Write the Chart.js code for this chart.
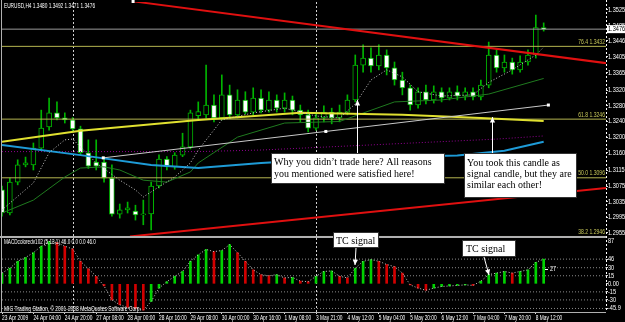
<!DOCTYPE html>
<html><head><meta charset="utf-8">
<script src="https://cdn.jsdelivr.net/npm/chart.js@4/dist/chart.umd.min.js"></script>
<style>html,body{margin:0;padding:0;background:#000;overflow:hidden}canvas{display:block}</style>
</head><body>
<canvas id="c" width="625" height="322"></canvas>
<script>
// ---------- DATA ----------
const timeLabels = ['23 Apr 2009','24 Apr 04:00','24 Apr 20:00','27 Apr 08:00','28 Apr 00:00','28 Apr 16:00','29 Apr 08:00','30 Apr 00:00','30 Apr 16:00','1 May 08:00','3 May 21:00','4 May 12:00','5 May 04:00','5 May 20:00','6 May 12:00','7 May 04:00','7 May 20:00','8 May 12:00'];
const timeLabelBars = [0,4,8,12,16,20,24,28,32,36,40,44,48,52,56,60,64,68];
const priceTicks = [1.3525,1.3485,1.3446,1.3405,1.3365,1.3320,1.3280,1.3240,1.3200,1.3160,1.3115,1.3075,1.3035,1.2995,1.2955];
const openP  = [1.3065,1.3006,1.3085,1.3129,1.3129,1.3172,1.3226,1.3262,1.3249,1.3244,1.3221,1.3160,1.3136,1.3136,1.3095,1.3003,1.3014,1.3011,1.3001,1.3004,1.3075,1.3144,1.3124,1.3154,1.3175,1.3255,1.3257,1.3282,1.3249,1.3308,1.3257,1.3295,1.3264,1.3300,1.3269,1.3295,1.3274,1.3295,1.3269,1.3257,1.3223,1.3249,1.3264,1.3249,1.3264,1.3295,1.3384,1.3402,1.3382,1.3410,1.3377,1.3346,1.3326,1.3282,1.3316,1.3295,1.3316,1.3300,1.3316,1.3305,1.3316,1.3303,1.3333,1.3410,1.3377,1.3392,1.3372,1.3392,1.3410,1.3480];
const highP  = [1.3075,1.3095,1.3142,1.3149,1.3185,1.3269,1.3300,1.3290,1.3262,1.3250,1.3228,1.3193,1.3193,1.3149,1.3129,1.3029,1.3034,1.3026,1.3039,1.3085,1.3155,1.3150,1.3160,1.3210,1.3269,1.3290,1.3384,1.3308,1.3359,1.3333,1.3321,1.3316,1.3326,1.3321,1.3316,1.3308,1.3313,1.3305,1.3282,1.3269,1.3264,1.3280,1.3274,1.3282,1.3308,1.3410,1.3436,1.3428,1.3436,1.3423,1.3392,1.3366,1.3333,1.3326,1.3333,1.3331,1.3326,1.3326,1.3331,1.3326,1.3326,1.3346,1.3443,1.3423,1.3410,1.3402,1.3408,1.3423,1.3512,1.3492];
const lowP   = [1.2998,1.3001,1.3078,1.3124,1.3116,1.3167,1.3218,1.3244,1.3236,1.3213,1.3155,1.3120,1.3116,1.3085,1.2998,1.2993,1.3006,1.2988,1.2976,1.2963,1.3070,1.3116,1.3118,1.3150,1.3170,1.3244,1.3249,1.3239,1.3244,1.3249,1.3249,1.3259,1.3257,1.3262,1.3264,1.3264,1.3264,1.3257,1.3239,1.3213,1.3218,1.3239,1.3234,1.3239,1.3257,1.3290,1.3366,1.3366,1.3372,1.3359,1.3333,1.3308,1.3269,1.3274,1.3285,1.3287,1.3290,1.3295,1.3295,1.3295,1.3295,1.3295,1.3326,1.3366,1.3366,1.3361,1.3366,1.3384,1.3402,1.3471];
const closeP = [1.3006,1.3085,1.3129,1.3134,1.3172,1.3223,1.3262,1.3249,1.3244,1.3221,1.3160,1.3126,1.3126,1.3095,1.3003,1.3014,1.3019,1.3001,1.3004,1.3075,1.3144,1.3124,1.3154,1.3175,1.3262,1.3265,1.3282,1.3249,1.3308,1.3257,1.3295,1.3264,1.3300,1.3269,1.3295,1.3274,1.3295,1.3269,1.3257,1.3223,1.3249,1.3264,1.3249,1.3264,1.3295,1.3384,1.3402,1.3382,1.3410,1.3377,1.3346,1.3326,1.3282,1.3316,1.3295,1.3316,1.3300,1.3316,1.3305,1.3316,1.3303,1.3333,1.3410,1.3377,1.3392,1.3372,1.3392,1.3410,1.3480,1.3476];
const yellowBars = [0,10,25,38,51,61,69];
const yellowVals = [1.3188,1.3216,1.3244,1.3262,1.3257,1.3249,1.3241];
const cyanBars = [0,10,19,25,33,45,58,64,69];
const cyanVals = [1.3180,1.3154,1.3129,1.3121,1.3134,1.3147,1.3153,1.3165,1.3188];
const purpleBars = [0,25,33,63,69];
const purpleVals = [1.3163,1.3163,1.3167,1.3195,1.3203];
const fastBars = [0,4,6,8,9,10,12,15,17,18,20,22,24,25,28,32,36,40,43,45,47,49,51,53,56,60,62,65,68,69];
const fastVals = [1.3014,1.3083,1.3160,1.3193,1.3195,1.3175,1.3134,1.3090,1.3065,1.3047,1.3073,1.3098,1.3134,1.3167,1.3244,1.3262,1.3274,1.3254,1.3249,1.3285,1.3346,1.3372,1.3354,1.3316,1.3305,1.3308,1.3340,1.3372,1.3410,1.3430];
const slowBars = [0,4,8,10,13,15,18,21,24,25,30,36,43,50,56,62,69];
const slowVals = [1.3006,1.3039,1.3098,1.3121,1.3124,1.3116,1.3090,1.3085,1.3111,1.3134,1.3200,1.3236,1.3240,1.3290,1.3295,1.3310,1.3350];
const trendWhiteBars = [12.9,69.6];
const trendWhiteVals = [1.3147,1.3282];
const trendRedUpBars = [16.7,77];
const trendRedUpVals = [1.3547,1.3389];
const trendRedLowBars = [16.3,77];
const trendRedLowVals = [1.2946,1.3070];
const fibLevels = [1.3432,1.3246,1.3096,1.2946];
const fibNames = ['76.4','61.8','50.0','38.2'];
const bidPrice = 1.3476;
const separatorBars = [9,40];
const macdVals = [20,29,42,49,58,70,79,77,70,65,42,28,14,-4,-30,-39,-44,-46,-49,-33,-8,4,14,23,42,54,64,60,62,73,58,42,26,17,15,17,11,12,5,4,14,23,24,14,11,29,42,45,42,36,32,20,-2,-8,-12,-8,-5,-4,-3,-2,-3,5,17,20,23,20,23,26,40,46];
const macdTicks = [46,30,15,0,-15,-30,-45.9];
const macdLevels = [46,30,15,-15,-30,-45.9];

// ---------- CONFIG ----------
const PMIN = 1.29447, PMAX = 1.35454, MMIN = -52.5, MMAX = 87.2, XMIN = 0, XMAX = 76.94;
const SANS = "'Liberation Sans','Arial',sans-serif";
const GREEN = '#00b400';
const bars = openP.map((_, i) => i);

function lineDS(xs, ys, color, width, dash, order, axis) {
  return {type:'line', yAxisID: axis || 'y', data: xs.map((x, i) => ({x, y: ys[i]})), borderColor: color,
    borderWidth: width, borderDash: dash || [], pointRadius: 0, tension: 0, fill: false, order: order};
}
const datasets = [];
datasets.push({type:'bar', yAxisID:'y', order: 100, grouped:false, barThickness:1,
  data: bars.map(i => ({x:i, y:[lowP[i], highP[i]]})), backgroundColor: GREEN, borderWidth:0});
datasets.push({type:'bar', yAxisID:'y', order: 90, grouped:false, barThickness:5, minBarLength:1,
  data: bars.map(i => ({x:i, y:[openP[i], closeP[i]]})),
  backgroundColor: bars.map(i => closeP[i] < openP[i] ? '#ffffff' : '#000000'),
  borderColor: GREEN, borderWidth: 1, borderSkipped: false});
fibLevels.forEach(l => datasets.push(lineDS([XMIN, XMAX], [l, l], '#b4b450', 1, [], 80)));
datasets.push(lineDS([XMIN, XMAX], [bidPrice, bidPrice], '#9a9a9a', 1, [], 80));
datasets.push(lineDS(slowBars, slowVals, '#1f7a1f', 1, [], 60));
datasets.push(lineDS(purpleBars, purpleVals, '#900090', 1, [1,2], 60));
datasets.push(lineDS(cyanBars, cyanVals, '#1e9bd7', 2, [], 55));
datasets.push(lineDS(yellowBars, yellowVals, '#e0e030', 2, [], 55));
datasets.push(lineDS(fastBars, fastVals, '#c8c8c8', 1, [1,2], 50));
datasets.push(lineDS(trendWhiteBars, trendWhiteVals, '#c8c8c8', 1, [], 20));
datasets.push(lineDS(trendRedUpBars, trendRedUpVals, '#e01010', 2, [], 20));
datasets.push(lineDS(trendRedLowBars, trendRedLowVals, '#e01010', 2, [], 20));
macdLevels.forEach(l => datasets.push(lineDS([XMIN, XMAX], [l, l], '#8a8a8a', 1, [1,2], 40, 'm')));
datasets.push({type:'bar', yAxisID:'m', order: 30, grouped:false, barThickness:2,
  data: bars.map(i => ({x:i, y:macdVals[i]})),
  backgroundColor: bars.map(i => (i === 0 || macdVals[i] >= macdVals[i-1]) ? '#00d200' : '#d20000'), borderWidth:0});
datasets.push(lineDS(bars, macdVals, '#c8c8c8', 1, [1,2], 10, 'm'));

function arrow(ctx, x1, y1, x2, y2, color) {
  ctx.strokeStyle = color; ctx.fillStyle = color; ctx.lineWidth = 1; ctx.setLineDash([]);
  ctx.beginPath(); ctx.moveTo(x1, y1); ctx.lineTo(x2, y2); ctx.stroke();
  const a = Math.atan2(y2 - y1, x2 - x1), L = 6, W = 0.45;
  ctx.beginPath(); ctx.moveTo(x2, y2);
  ctx.lineTo(x2 - L*Math.cos(a - W), y2 - L*Math.sin(a - W));
  ctx.lineTo(x2 - L*Math.cos(a + W), y2 - L*Math.sin(a + W));
  ctx.closePath(); ctx.fill();
}
function noteBox(ctx, x, y, w, h, lines, size, lh, tx, ty) {
  ctx.fillStyle = '#fff'; ctx.fillRect(x, y, w, h);
  ctx.strokeStyle = '#333'; ctx.lineWidth = 1; ctx.setLineDash([]); ctx.strokeRect(x + 0.5, y + 0.5, w - 1, h - 1);
  ctx.fillStyle = '#000'; ctx.font = size + "px 'Liberation Serif','DejaVu Serif',serif";
  ctx.textAlign = 'left'; ctx.textBaseline = 'alphabetic';
  lines.forEach((t, i) => ctx.fillText(t, tx, ty + i * lh));
}
// small condensed text, like the terminal's bitmap font
function tiny(ctx, str, x, y, size, sx, color, align, base) {
  ctx.save(); ctx.translate(x, y); ctx.scale(sx, 1);
  ctx.font = size + 'px ' + SANS; ctx.fillStyle = color; ctx.textAlign = align || 'left'; ctx.textBaseline = base || 'middle';
  ctx.fillText(str, 0, 0); ctx.restore();
}

const overlay = {
  id: 'overlay',
  beforeDatasetsDraw(c) {
    const {ctx, chartArea: a, scales: {x}} = c;
    ctx.save();
    ctx.strokeStyle = '#d0d0d0'; ctx.lineWidth = 1; ctx.setLineDash([2, 2]);
    separatorBars.forEach(b => {
      const px = Math.round(x.getPixelForValue(b)) + 0.5;
      ctx.beginPath(); ctx.moveTo(px, a.top); ctx.lineTo(px, a.bottom); ctx.stroke();
    });
    ctx.restore();
  },
  afterDraw(c) {
    const {ctx, chartArea: a, scales: {x, y, m}} = c;
    ctx.save();
    ctx.setLineDash([]); ctx.strokeStyle = '#b0b0b0'; ctx.lineWidth = 1;
    ctx.beginPath(); ctx.moveTo(1.5, 0); ctx.lineTo(1.5, a.bottom); ctx.stroke();
    ctx.lineWidth = 2;
    ctx.beginPath(); ctx.moveTo(0, y.bottom); ctx.lineTo(a.right, y.bottom); ctx.stroke();
    ctx.lineWidth = 1;
    ctx.beginPath(); ctx.moveTo(0, a.bottom + 0.5); ctx.lineTo(a.right, a.bottom + 0.5); ctx.stroke();
    ctx.strokeStyle = '#ffffff'; ctx.setLineDash([2, 2]);
    ctx.beginPath(); ctx.moveTo(a.right + 0.5, 0); ctx.lineTo(a.right + 0.5, a.bottom); ctx.stroke();
    ctx.setLineDash([]);
    // axis labels from the library's scales
    x.ticks.forEach((t, i) => tiny(ctx, timeLabels[i], x.getPixelForValue(t.value), a.bottom + 6, 6.5, 0.74, '#fff', 'left'));
    y.ticks.forEach(t => tiny(ctx, t.value.toFixed(4), a.right + 2, y.getPixelForValue(t.value), 7, 0.8, '#fff', 'left'));
    m.ticks.forEach(t => tiny(ctx, t.value === 0 ? '0.00' : String(t.value), a.right + 2, m.getPixelForValue(t.value), 7, 0.8, '#fff', 'left'));
    tiny(ctx, '87', a.right + 2, m.top + 4, 7, 0.8, '#fff', 'left');
    // anchors
    ctx.fillStyle = '#ffffff';
    const wx = trendWhiteBars.map(b => x.getPixelForValue(b)), wy = trendWhiteVals.map(v => y.getPixelForValue(v));
    [[wx[0], wy[0]], [(wx[0]+wx[1])/2, (wy[0]+wy[1])/2], [wx[1], wy[1]]].forEach(p => ctx.fillRect(p[0]-1.5, p[1]-1.5, 3, 3));
    ctx.fillRect(x.getPixelForValue(trendRedUpBars[0]) - 1.5, 0, 3, 3);
    // fib labels
    fibLevels.forEach((l, i) => tiny(ctx, fibNames[i] + ' ' + l.toFixed(4), a.right - 1, y.getPixelForValue(l) - 1, 6.5, 0.78, '#c8c85a', 'right', 'bottom'));
    // bid price box
    const by = y.getPixelForValue(bidPrice);
    ctx.fillStyle = '#ffffff'; ctx.fillRect(a.right + 1, by - 4, 18, 8);
    tiny(ctx, bidPrice.toFixed(4), a.right + 2, by, 7, 0.8, '#000', 'left');
    // titles
    tiny(ctx, 'EURUSD,H4 1.3480 1.3492 1.3471 1.3476', 4, 6, 7, 0.68, '#fff', 'left');
    tiny(ctx, 'MACDcoloredv102 (5,13,1) 46.0 0.0 0.0 46.0', 4, m.top + 5, 7, 0.66, '#fff', 'left');
    tiny(ctx, 'MIG Trading Station, \u00A9 2001-2008 MetaQuotes Software Corp.', 4, a.bottom - 3, 7, 0.7, '#fff', 'left');
    const sy = m.getPixelForValue(27);
    ctx.fillStyle = '#fff'; ctx.fillRect(545, Math.round(sy), 3, 1);
    tiny(ctx, '27', 550, sy, 7, 0.8, '#fff', 'left');
    // annotations
    arrow(ctx, 357.5, 153, 357.5, 100, '#ffffff');
    arrow(ctx, 492.5, 153, 492.5, 117, '#ffffff');
    noteBox(ctx, 271, 153, 174, 31, ['Why you didn\u2019t trade here? All reasons', 'you mentioned were satisfied here!'], 10, 12, 274, 165);
    noteBox(ctx, 464, 153, 113, 45, ['You took this candle as', 'signal candle, but they are', 'similar each other!'], 10, 11, 467, 166);
    arrow(ctx, 356, 248, 355, 265, '#ffffff');
    noteBox(ctx, 333, 232, 46, 16, ['TC signal'], 10, 12, 336, 244);
    arrow(ctx, 484, 257, 489, 275, '#ffffff');
    noteBox(ctx, 462, 240, 54, 17, ['TC signal'], 10, 12, 466, 252);
    ctx.restore();
  }
};

const zeroPad = s => { s.paddingTop = 0; s.paddingBottom = 0; s.paddingLeft = 0; s.paddingRight = 0; };
new Chart(document.getElementById('c'), {
  type: 'line',
  data: {datasets},
  plugins: [overlay],
  options: {
    responsive: false, animation: false, events: [],
    layout: {padding: {left: 2, top: 2, right: 0, bottom: 0}},
    plugins: {legend: {display: false}, tooltip: {enabled: false}},
    scales: {
      x: {type: 'linear', min: XMIN, max: XMAX, offset: false, position: 'bottom',
        afterBuildTicks: s => { s.ticks = timeLabelBars.map(v => ({value: v})); },
        afterFit: s => { s.height = 10; zeroPad(s); },
        ticks: {display: false, autoSkip: false, callback: (v, i) => timeLabels[i]},
        grid: {display: true, drawOnChartArea: false, drawTicks: true, tickLength: 2, color: '#ddd', offset: false},
        border: {display: false}},
      y: {type: 'linear', position: 'right', stack: 'panes', stackWeight: 235, min: PMIN, max: PMAX,
        afterBuildTicks: s => { s.ticks = priceTicks.map(v => ({value: v})); },
        afterFit: s => { s.width = 19; zeroPad(s); },
        ticks: {display: false, autoSkip: false, callback: v => v.toFixed(4)},
        grid: {display: true, drawOnChartArea: false, drawTicks: true, tickLength: 2, color: '#ddd'},
        border: {display: false}},
      m: {type: 'linear', position: 'right', stack: 'panes', stackWeight: 75, min: MMIN, max: MMAX,
        afterBuildTicks: s => { s.ticks = macdTicks.map(v => ({value: v})); },
        afterFit: s => { s.width = 19; zeroPad(s); },
        ticks: {display: false, autoSkip: false, callback: v => v === 0 ? '0.00' : String(v)},
        grid: {display: true, drawOnChartArea: false, drawTicks: true, tickLength: 2, color: '#ddd'},
        border: {display: false}}
    }
  }
});
</script>
</body></html>
